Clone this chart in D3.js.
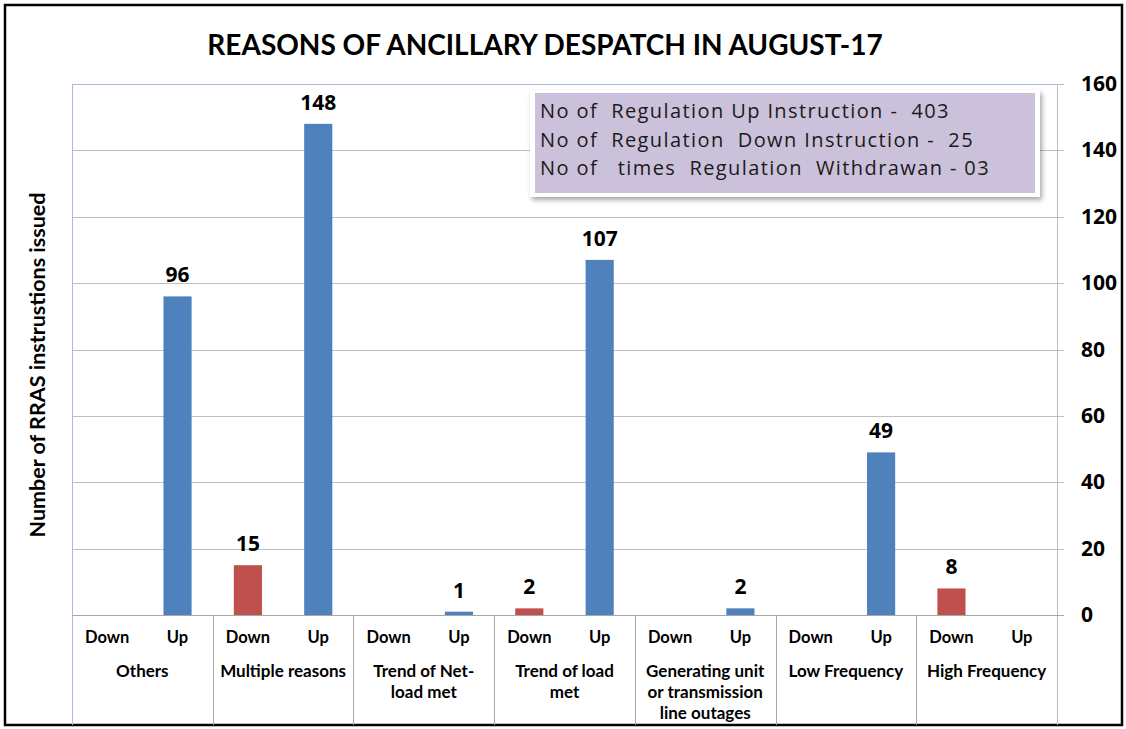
<!DOCTYPE html>
<html>
<meta charset="utf-8">
<head>
<script src="https://cdnjs.cloudflare.com/ajax/libs/d3/7.8.5/d3.min.js"></script>
</head>
<style>
body { margin: 0; background: #fff; }
svg text { font-family: Lato, "Liberation Sans", sans-serif; }
.tick-label { font-size: 21px; font-weight: bold; fill: #000; font-family: "Open Sans", sans-serif !important; }
.value { font-size: 21px; font-weight: bold; fill: #000; font-family: "Open Sans", sans-serif !important; }
.sub { font-size: 16.5px; font-weight: bold; fill: #000; }
.cat { font-size: 17px; font-weight: bold; fill: #000; }
.legend-text { font-size: 20px; letter-spacing: 1.4px; fill: #1a1a1a; font-family: "Open Sans", sans-serif !important; white-space: pre; }
</style>
<body>
<svg id="chart" width="1126" height="729"></svg>
<script>
// category groups (lines split where the original wraps)
var categories = ["Others", "Multiple reasons", "Trend of Net-|load met", "Trend of load|met",
                  "Generating unit|or transmission|line outages", "Low Frequency", "High Frequency"];
var subLabels = ["Down", "Up"];
var downValues = [0, 15, 0, 2, 0, 0, 8];
var upValues   = [96, 148, 1, 107, 2, 49, 0];
var yTicks = [0, 20, 40, 60, 80, 100, 120, 140, 160];
var legendLines = ["No of  Regulation Up Instruction -  403",
                   "No of  Regulation  Down Instruction -  25",
                   "No of   times  Regulation  Withdrawan - 03"];

var colors = {Down: "#c0504d", Up: "#4f81bd"};

// plot edges
var plotLeft = 72, plotRight = 1057, plotTop = 84, zeroY = 615, frameBottom = 725;

var svg = d3.select("#chart");

// outer frame
svg.append("rect")
   .attr("x", 5).attr("y", 5)
   .attr("width", 1117).attr("height", 720)
   .attr("fill", "#fff")
   .attr("stroke", "#000").attr("stroke-width", 2.5);

var x0 = d3.scaleBand().domain(categories).range([plotLeft, plotRight]).padding(0);
var x1 = d3.scaleBand().domain(subLabels).range([0, x0.bandwidth()])
           .paddingInner(0.6).paddingOuter(0.3);
var y = d3.scaleLinear().domain([0, 160]).range([zeroY, plotTop]);

// gridlines
svg.append("g")
   .selectAll("line").data(yTicks.filter(d => d > 0)).join("line")
   .attr("x1", plotLeft).attr("x2", plotRight + 7)
   .attr("y1", d => Math.round(y(d)) + 0.5).attr("y2", d => Math.round(y(d)) + 0.5)
   .attr("stroke", d => d === 160 ? "#a9bcd9" : "#bfbfbf");

// left edge of plot
svg.append("line")
   .attr("x1", plotLeft + 0.5).attr("x2", plotLeft + 0.5)
   .attr("y1", plotTop).attr("y2", frameBottom)
   .attr("stroke", "#a9bcd9");

// right value axis line
svg.append("line")
   .attr("x1", plotRight + 0.5).attr("x2", plotRight + 0.5)
   .attr("y1", plotTop).attr("y2", frameBottom)
   .attr("stroke", "#bfbfbf");

// zero line + group separators
svg.append("line")
   .attr("x1", plotLeft).attr("x2", plotRight + 7)
   .attr("y1", zeroY + 0.5).attr("y2", zeroY + 0.5)
   .attr("stroke", "#a6a6a6");
svg.append("g").selectAll("line").data(categories.slice(1)).join("line")
   .attr("x1", d => Math.round(x0(d)) + 0.5).attr("x2", d => Math.round(x0(d)) + 0.5)
   .attr("y1", zeroY).attr("y2", frameBottom)
   .attr("stroke", "#a6a6a6");

// right axis labels
svg.append("g").selectAll("text").data(yTicks).join("text")
   .attr("class", "tick-label")
   .attr("x", 1081)
   .attr("y", d => y(d) + 7)
   .text(d => d);

// bars
var barData = [];
categories.forEach(function(c, i) {
  barData.push({cat: c, sub: "Down", value: downValues[i]});
  barData.push({cat: c, sub: "Up", value: upValues[i]});
});

var groups = svg.append("g").selectAll("g").data(barData).join("g")
   .attr("transform", d => "translate(" + (x0(d.cat) + x1(d.sub)) + ",0)");

groups.filter(d => d.value > 0).append("rect")
   .attr("x", 0).attr("width", x1.bandwidth())
   .attr("y", d => y(d.value)).attr("height", d => zeroY - y(d.value))
   .attr("fill", d => colors[d.sub]);

groups.filter(d => d.value > 0).append("text")
   .attr("class", "value")
   .attr("x", x1.bandwidth() / 2)
   .attr("y", d => y(d.value) - 14)
   .attr("text-anchor", "middle")
   .text(d => d.value);

// sub-category labels
groups.append("text")
   .attr("class", "sub")
   .attr("x", x1.bandwidth() / 2)
   .attr("y", 643)
   .attr("text-anchor", "middle")
   .text(d => d.sub);

// group labels
svg.append("g").selectAll("text").data(categories).join("text")
   .attr("class", "cat")
   .attr("text-anchor", "middle")
   .each(function(d) {
     d3.select(this).selectAll("tspan").data(d.split("|")).join("tspan")
       .attr("x", x0(d) + x0.bandwidth() / 2)
       .attr("y", (t, k) => 677 + k * 21)
       .text(t => t);
   });

// title
svg.append("text")
   .attr("x", 545).attr("y", 55)
   .attr("text-anchor", "middle")
   .style("font-size", "28px").style("font-weight", "bold")
   .text("REASONS OF ANCILLARY DESPATCH IN AUGUST-17");

// y axis title
svg.append("text")
   .attr("transform", "translate(45,365) rotate(-90)")
   .attr("text-anchor", "middle")
   .style("font-size", "21.5px").style("font-weight", "bold")
   .text("Number of RRAS instrustions issued");

// info box
var defs = svg.append("defs");
var f = defs.append("filter").attr("id", "shadow").attr("x", "-5%").attr("y", "-10%")
            .attr("width", "115%").attr("height", "130%");
f.append("feDropShadow").attr("dx", 2).attr("dy", 3).attr("stdDeviation", 2.5)
 .attr("flood-color", "#000").attr("flood-opacity", 0.35);

svg.append("rect")
   .attr("x", 530).attr("y", 90)
   .attr("width", 510).attr("height", 107)
   .attr("fill", "#fff")
   .attr("filter", "url(#shadow)");
svg.append("rect")
   .attr("x", 535).attr("y", 93)
   .attr("width", 500).attr("height", 100)
   .attr("fill", "#ccc1da");

svg.append("g").selectAll("text").data(legendLines).join("text")
   .attr("class", "legend-text")
   .attr("x", 540)
   .attr("y", (d, i) => 118 + i * 28.5)
   .attr("xml:space", "preserve")
   .text(d => d);
</script>
</body>
</html>
